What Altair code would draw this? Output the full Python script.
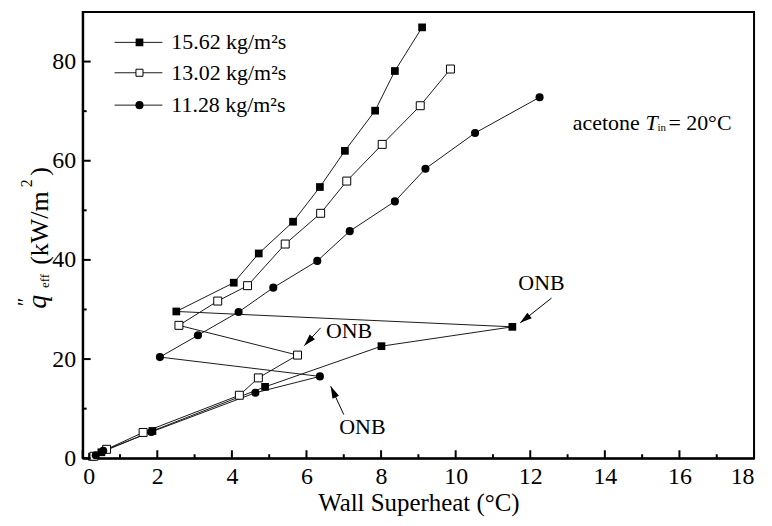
import math
import altair as alt
import pandas as pd

# ---------------- data ----------------
series_names = ["15.62 kg/m²s", "13.02 kg/m²s", "11.28 kg/m²s"]

x_1562 = [0.25, 0.50, 1.87, 4.89, 8.01, 11.52, 2.51, 4.05, 4.72, 5.64, 6.36, 7.03, 7.84, 8.37, 9.10]
y_1562 = [0.3, 1.2, 5.5, 14.4, 22.6, 26.5, 29.6, 35.4, 41.3, 47.7, 54.7, 62.0, 70.1, 78.1, 86.9]

x_1302 = [0.30, 0.64, 1.62, 4.20, 4.71, 5.76, 2.58, 3.62, 4.42, 5.43, 6.38, 7.08, 8.03, 9.05, 9.86]
y_1302 = [0.4, 1.8, 5.2, 12.7, 16.2, 20.8, 26.8, 31.7, 34.8, 43.2, 49.4, 55.9, 63.3, 71.1, 78.5]

x_1128 = [0.35, 0.55, 1.84, 4.63, 6.36, 2.07, 3.09, 4.18, 5.11, 6.29, 7.16, 8.37, 9.19, 10.52, 12.25]
y_1128 = [0.6, 1.5, 5.3, 13.2, 16.5, 20.4, 24.8, 29.5, 34.4, 39.8, 45.8, 51.8, 58.4, 65.6, 72.8]

x_major = [0, 2, 4, 6, 8, 10, 12, 14, 16, 18]
x_minor = [1, 3, 5, 7, 9, 11, 13, 15, 17]
y_major = [0, 20, 40, 60, 80]
y_minor = [10, 30, 50, 70, 90]

# ONB annotations: label position, arrow start, arrow tip
onb_text_x = [12.30, 7.14, 7.50]
onb_text_y = [35.3, 25.6, 6.2]
arrow_x0 = [12.57, 6.38, 7.00]
arrow_y0 = [32.3, 26.3, 8.8]
arrow_x1 = [11.73, 5.94, 6.65]
arrow_y1 = [27.3, 22.7, 14.5]

# ---------------- tables ----------------
rows = []
for name, xs_, ys_ in zip(series_names, [x_1562, x_1302, x_1128], [y_1562, y_1302, y_1128]):
    for i, (a, b) in enumerate(zip(xs_, ys_)):
        rows.append({"series": name, "order": i, "x": a, "y": b})
df = pd.DataFrame(rows)

W, H = 674, 448
XMAX, YMAX = 18, 90
px_x = W / XMAX
px_y = H / YMAX

angles = []
for a0, b0, a1, b1 in zip(arrow_x0, arrow_y0, arrow_x1, arrow_y1):
    dx = (a1 - a0) * px_x
    dy = -(b1 - b0) * px_y
    ang = math.degrees(math.atan2(dx, -dy)) % 360
    angles.append(ang)

onb = pd.DataFrame({"x": onb_text_x, "y": onb_text_y, "t": ["ONB"] * 3})
arrows = pd.DataFrame({"x": arrow_x0, "y": arrow_y0, "x2": arrow_x1, "y2": arrow_y1})
heads = pd.DataFrame({"x": arrow_x1, "y": arrow_y1, "ang": angles})

FONT = "Liberation Serif, Times New Roman, DejaVu Serif, serif"
INK = "black"

xscale = alt.Scale(domain=[0, XMAX], nice=False, zero=False)
yscale = alt.Scale(domain=[0, YMAX], nice=False)
xaxis = alt.Axis(values=x_major, title="Wall Superheat (°C)", labelPadding=6,
                 titlePadding=2, format="d")
yaxis = alt.Axis(values=y_major, title=None, labelPadding=7, format="d")
X = alt.X("x:Q", scale=xscale, axis=xaxis)
Y = alt.Y("y:Q", scale=yscale, axis=yaxis)

base = alt.Chart(df)

lines = base.mark_line(color="#1a1a1a", strokeWidth=1).encode(
    x=X, y=Y, detail="series:N", order="order:Q")

p_fsq = base.transform_filter(alt.datum.series == series_names[0]).mark_point(
    shape="square", filled=True, color=INK, size=60, opacity=1).encode(x=X, y=Y)
p_osq = base.transform_filter(alt.datum.series == series_names[1]).mark_point(
    shape="square", filled=True, fill="white", stroke=INK, strokeWidth=1, size=64, opacity=1).encode(x=X, y=Y)
p_cir = base.transform_filter(alt.datum.series == series_names[2]).mark_point(
    shape="circle", filled=True, color=INK, size=66, opacity=1).encode(x=X, y=Y)

# inward ticks
xt_major = alt.Chart(pd.DataFrame({"x": x_major})).mark_rule(color=INK, strokeWidth=2).encode(
    x=X, y=alt.value(H), y2=alt.value(H - 8))
xt_minor = alt.Chart(pd.DataFrame({"x": x_minor})).mark_rule(color=INK, strokeWidth=2).encode(
    x=X, y=alt.value(H), y2=alt.value(H - 4))
yt_major = alt.Chart(pd.DataFrame({"y": y_major})).mark_rule(color=INK, strokeWidth=2).encode(
    y=Y, x=alt.value(0), x2=alt.value(8))
yt_minor = alt.Chart(pd.DataFrame({"y": y_minor})).mark_rule(color=INK, strokeWidth=2).encode(
    y=Y, x=alt.value(0), x2=alt.value(4))

# ONB annotations
onb_text = alt.Chart(onb).mark_text(font=FONT, fontSize=22, color=INK).encode(x=X, y=Y, text="t:N")
arrow_lines = alt.Chart(arrows).mark_rule(color=INK, strokeWidth=1).encode(
    x=X, y=Y, x2="x2:Q", y2="y2:Q")
arrow_heads = alt.Chart(heads).mark_point(
    shape="M0,0L-0.6,2L0.6,2Z", filled=True, color=INK, size=144, opacity=1).encode(
    x=X, y=Y, angle=alt.Angle("ang:Q", scale=None))

layers = [lines, p_fsq, p_osq, p_cir, xt_major, xt_minor, yt_major, yt_minor,
          arrow_lines, arrow_heads, onb_text]

# legend (drawn manually)
leg_y = [30.5, 61, 93.5]
marker_specs = [
    dict(shape="square", filled=True, color=INK, size=60, opacity=1),
    dict(shape="square", filled=True, fill="white", stroke=INK, strokeWidth=1, size=50, opacity=1),
    dict(shape="circle", filled=True, color=INK, size=66, opacity=1),
]
for name, ly, ms in zip(series_names, leg_y, marker_specs):
    tdf = pd.DataFrame({"t": [name]})
    layers.append(alt.Chart(tdf).mark_rule(color="#1a1a1a", strokeWidth=1).encode(
        x=alt.value(32), x2=alt.value(80), y=alt.value(ly)))
    layers.append(alt.Chart(tdf).mark_point(**ms).encode(x=alt.value(57), y=alt.value(ly)))
    layers.append(alt.Chart(tdf).mark_text(font=FONT, fontSize=22, color=INK, align="left",
                                           baseline="middle").encode(
        x=alt.value(89), y=alt.value(ly), text="t:N"))

# "acetone T_in = 20°C"
def txt(s, x, y, size=21, style="normal", align="left", angle=0, baseline="middle"):
    kw = dict(font=FONT, fontSize=size, color=INK, align=align, baseline=baseline, fontStyle=style)
    if angle:
        kw["angle"] = angle
    return alt.Chart(pd.DataFrame({"t": [s]})).mark_text(**kw).encode(
        x=alt.value(x), y=alt.value(y), text="t:N")

layers += [
    txt("acetone", 492, 111, size=22),
    txt("T", 565, 111, size=22, style="italic"),
    txt("in", 577, 116, size=11),
    txt("= 20°C", 588, 111, size=22),
]

# y-axis title: q''_eff (kW/m²)
layers += [
    txt("q", -45, 291, size=28, style="italic", align="center", angle=270),
    txt("″", -57, 291, size=20, align="center", angle=270),
    txt("eff", -38, 270, size=13, align="center", angle=270),
    txt("(kW/m", -43, 217, size=26, align="center", angle=270),
    txt("2", -56, 172, size=16, align="center", angle=270),
    txt(")", -43, 160, size=26, align="center", angle=270),
]

chart = alt.layer(*layers).properties(
    width=W, height=H,
    autosize=alt.AutoSizeParams(type="none"),
    padding={"left": 75, "top": 3, "right": 10, "bottom": 60},
).configure_axis(
    domainColor=INK, domainWidth=2, ticks=False, grid=False,
    labelFont=FONT, labelFontSize=24, labelColor=INK,
    titleFont=FONT, titleFontSize=25, titleColor=INK, titleFontWeight="normal",
).configure_view(stroke=INK, strokeWidth=2)

chart.save("out.html", embed_options={"renderer": "svg", "actions": False})
